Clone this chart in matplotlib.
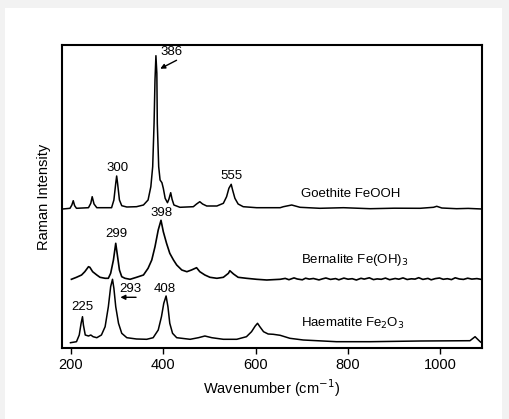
import matplotlib
matplotlib.use("Agg")
from matplotlib import pyplot as plt
from matplotlib.patches import Rectangle

plt.rcParams['font.family'] = ['Liberation Sans', 'DejaVu Sans']

# traced spectra (wavenumber, intensity in arbitrary units)
goethite_x = [182, 198, 202, 205, 208, 212, 238, 243, 246, 250, 256, 288, 293, 297, 299, 301,
              305, 310, 321, 342, 357, 367, 373, 377, 380, 382, 384, 386, 387, 390, 393, 397,
              400, 404, 409, 412, 416, 419, 423, 436, 465, 472, 479, 485, 494, 516, 530, 537,
              542, 547, 550, 555, 562, 573, 602, 653, 660, 678, 696, 739, 790, 848, 900, 956,
              985, 992, 1003, 1035, 1060, 1090]
goethite_y = [139, 139.7, 143, 147.3, 142.3, 139.7, 140.3, 144.7, 151.3, 144, 140.3, 140.3, 148,
              164.7, 172, 164.7, 148, 142.3, 141, 141.3, 143, 148, 161.3, 181.3, 224.7, 268,
              292.3, 274.7, 224.7, 181.3, 168, 165.3, 159.7, 149.7, 145.3, 148.7, 155.3, 148.7,
              143, 140.7, 141.3, 144, 146.3, 144, 142, 142, 144.7, 151.3, 159.7, 163.7, 158,
              149.7, 144, 141.3, 140.3, 140.3, 141.3, 143, 140.7, 139.7, 140.3, 139.3, 139.8,
              139.7, 140.7, 141.7, 140, 139.3, 139.6, 139]

bernalite_x = [201, 212, 223, 230, 238, 241, 247, 256, 263, 274, 281, 286, 292, 297, 301, 305,
               310, 317, 328, 342, 357, 367, 375, 382, 389, 395, 400, 407, 414, 422, 429, 440,
               451, 461, 472, 479, 490, 501, 516, 530, 541, 544, 552, 562, 580, 602, 624, 653,
               664, 672, 683, 690, 701, 708, 716, 725, 737, 745, 752, 762, 773, 780, 791, 800,
               809, 818, 828, 835, 846, 855, 863, 872, 881, 890, 902, 910, 919, 928, 937, 945,
               953, 962, 973, 980, 989, 998, 1006, 1015, 1024, 1032, 1041, 1050, 1059, 1068,
               1079, 1090]
bernalite_y = [68.7, 70.7, 73, 76.3, 81.3, 80.7, 76.3, 73, 70.7, 69.7, 69.7, 74.7, 88, 104.7, 91.3,
               78, 71.3, 69.7, 68.7, 70.7, 73, 79.7, 88, 101.3, 118, 127.7, 116.3, 104.7, 94.7,
               88, 83, 78, 76.3, 78, 80.3, 76.3, 73, 70.7, 69.7, 70.7, 74.7, 77.3, 74, 70.7, 69.7,
               68.7, 68, 68.7, 69.6, 68.3, 70.1, 69.0, 68.2, 69.8, 68.9, 69.5, 68.1, 69.2, 70.0,
               68.6, 69.4, 68.2, 69.9, 68.8, 69.3, 68.0, 69.7, 68.9, 70.2, 68.4, 69.1, 68.7, 69.9,
               68.3, 69.5, 68.8, 70.1, 68.5, 69.2, 68.9, 70.3, 68.6, 69.6, 68.2, 69.4, 70.0, 68.7,
               69.3, 68.4, 70.2, 69.0, 68.6, 69.8, 68.9, 69.4, 68.5]

haematite_x = [199, 212, 218, 222, 225, 227, 231, 238, 243, 248, 256, 266, 274, 281, 286, 290,
               293, 297, 303, 310, 321, 342, 364, 378, 389, 396, 401, 406, 410, 414, 420, 429,
               458, 476, 490, 505, 530, 559, 580, 591, 599, 604, 609, 617, 627, 638, 653, 674,
               703, 775, 848, 956, 1064, 1075, 1080, 1086, 1091]
haematite_y = [5.3, 6.3, 13, 24.7, 31.3, 23, 13, 12, 13, 11.3, 10.3, 13, 21.3, 41.3, 61.3, 68.7,
               59.7, 41.3, 24.7, 14.7, 10.3, 9, 8.7, 10.3, 18, 31.3, 44.7, 52, 41.3, 24.7, 14.7,
               10.3, 8.7, 10.3, 12, 10.3, 8.7, 8.7, 11.3, 16.3, 22, 24.7, 21.3, 16.3, 14, 13.7,
               12.7, 9.7, 8, 6.3, 6.3, 7, 7.3, 11.3, 9, 6.3, 4.7]

xticks = [200, 400, 600, 800, 1000]

fig = plt.figure(figsize=(5.10, 4.19), dpi=100, facecolor='#f2f2f2')
fig.patches.append(Rectangle((5 / 510, 0), 497 / 510, 411 / 419, transform=fig.transFigure,
                             facecolor='white', edgecolor='none', zorder=-1))
ax = fig.add_axes([61.7 / 510, 1 - 348 / 419, (482 - 61.7) / 510, (348 - 45) / 419])

ax.plot(goethite_x, goethite_y, color='black', lw=1.1)
ax.plot(bernalite_x, bernalite_y, color='black', lw=1.2)
ax.plot(haematite_x, haematite_y, color='black', lw=1.1)

ax.set_xlim(180, 1090)
ax.set_ylim(0, 303)
ax.set_yticks([])
ax.set_xticks(xticks)
ax.tick_params(axis='x', direction='out', length=4, width=1, labelsize=10.5, pad=3)
for s in ax.spines.values():
    s.set_linewidth(1.5)

ax.set_xlabel("Wavenumber (cm$^{-1}$)", fontsize=10.5)
ax.set_ylabel("Raman Intensity", fontsize=10.5, labelpad=8)

fs = 9.5
ax.text(301, 179.7, "300", ha='center', va='center', fontsize=fs)
ax.text(418, 296, "386", ha='center', va='center', fontsize=fs)
ax.annotate("", xy=(388, 278), xytext=(434, 289),
            arrowprops=dict(arrowstyle='-|>', color='black', lw=1, mutation_scale=7))
ax.text(548, 172, "555", ha='center', va='center', fontsize=fs)
ax.text(397, 134.7, "398", ha='center', va='center', fontsize=fs)
ax.text(299, 113.7, "299", ha='center', va='center', fontsize=fs)
ax.text(328, 59, "293", ha='center', va='center', fontsize=fs)
ax.annotate("", xy=(301, 50.7), xytext=(347, 50.7),
            arrowprops=dict(arrowstyle='-|>', color='black', lw=1, mutation_scale=7))
ax.text(404, 58.7, "408", ha='center', va='center', fontsize=fs)
ax.text(225, 41.3, "225", ha='center', va='center', fontsize=fs)

ax.text(698, 154, "Goethite FeOOH", ha='left', va='center', fontsize=fs)
ax.text(698, 88, "Bernalite Fe(OH)$_3$", ha='left', va='center', fontsize=fs)
ax.text(698, 24.7, "Haematite Fe$_2$O$_3$", ha='left', va='center', fontsize=fs)

plt.savefig("out.png", dpi=100, facecolor=fig.get_facecolor())
